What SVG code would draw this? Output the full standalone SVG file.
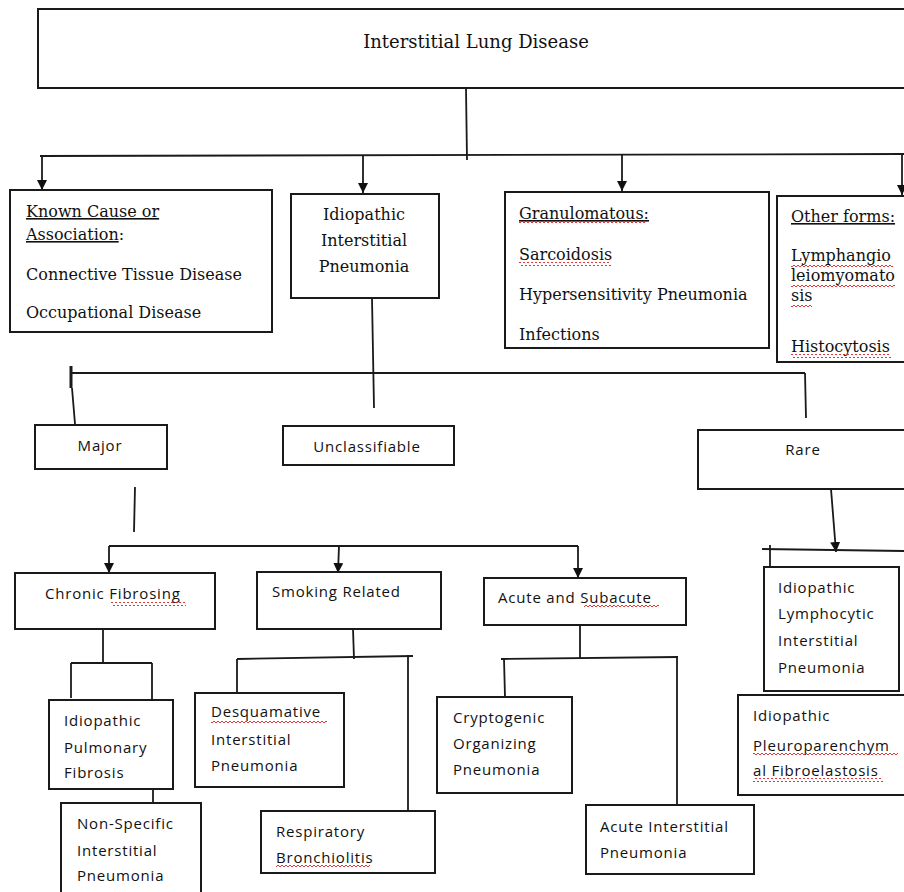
<svg xmlns="http://www.w3.org/2000/svg" width="904" height="892" viewBox="0 0 904 892">
<style>
.box{fill:#fff;stroke:#1a1a1a;stroke-width:2}
.ln{fill:none;stroke:#1a1a1a;stroke-width:1.8}
.arr{marker-end:url(#ah)}
.sf{font-family:"DejaVu Serif","Liberation Serif",serif;font-size:16px;fill:#111}
.ss{font-family:"Open Sans","Liberation Sans",sans-serif;font-size:15px;letter-spacing:0.8px;fill:#111}
.ul{text-decoration:underline}
.sq{fill:url(#wave)}
</style>
<defs>
<marker id="ah" markerUnits="userSpaceOnUse" markerWidth="10" markerHeight="11" refX="10" refY="5" orient="auto">
<path d="M0,0 L10,5 L0,10 z" fill="#111"/>
</marker>
<pattern id="wave" patternUnits="userSpaceOnUse" width="4" height="4">
<path d="M0,3 L2,1 L4,3" fill="none" stroke="#e02020" stroke-width="0.9"/>
</pattern>
</defs>
<rect width="904" height="892" fill="#fff"/>
<g id="connectors">
<path class="ln" d="M466,88 L467,160"/>
<path class="ln" d="M40,156 L904,154"/>
<path class="ln arr" d="M42,156 L42,190"/>
<path class="ln arr" d="M363,156 L363,193"/>
<path class="ln arr" d="M622,155 L622,191"/>
<path class="ln arr" d="M902,154 L902,195"/>
<path class="ln" d="M372,298 L374,408"/>
<path class="ln" d="M71,373 L805,373"/>
<path class="ln" d="M71,366 L71,388" style="stroke-width:3"/>
<path class="ln" d="M72,388 L75,424"/>
<path class="ln" d="M805,373 L806,418"/>
<path class="ln" d="M135,487 L134,532"/>
<path class="ln" d="M109,546 L578,546"/>
<path class="ln arr" d="M109,546 L109,573"/>
<path class="ln arr" d="M339,546 L338,573"/>
<path class="ln arr" d="M578,546 L578,578"/>
<path class="ln arr" d="M831,489 L836,552"/>
<path class="ln" d="M762,549 L904,551"/>
<path class="ln" d="M770,545 L770,567"/>
<path class="ln" d="M103,629 L103,663"/>
<path class="ln" d="M71,663 L152,663"/>
<path class="ln" d="M71,663 L71,698"/>
<path class="ln" d="M152,663 L152,700"/>
<path class="ln" d="M153,789 L153,803"/>
<path class="ln" d="M353,629 L354,659"/>
<path class="ln" d="M237,659 L413,656"/>
<path class="ln" d="M237,659 L237,693"/>
<path class="ln" d="M408,655 L408,811"/>
<path class="ln" d="M580,625 L580,659"/>
<path class="ln" d="M501,659 L678,657"/>
<path class="ln" d="M504,659 L505,697"/>
<path class="ln" d="M677,656 L677,805"/>
</g>
<g id="ild">
<rect class="box" x="38" y="9" width="880" height="79"/>
<text class="sf" x="476" y="48" text-anchor="middle" style="font-size:18px">Interstitial Lung Disease</text>
</g>
<g id="known">
<rect class="box" x="10" y="190" width="262" height="142"/>
<text class="sf" x="26" y="217"><tspan class="ul">Known Cause or</tspan></text>
<text class="sf" x="26" y="240"><tspan class="ul">Association</tspan>:</text>
<text class="sf" x="26" y="280">Connective Tissue Disease</text>
<text class="sf" x="26" y="318">Occupational  Disease</text>
</g>
<g id="iip">
<rect class="box" x="291" y="194" width="148" height="104"/>
<text class="sf" x="364" y="220" text-anchor="middle">Idiopathic</text>
<text class="sf" x="364" y="246" text-anchor="middle">Interstitial</text>
<text class="sf" x="364" y="272" text-anchor="middle">Pneumonia</text>
</g>
<g id="granulomatous">
<rect class="box" x="505" y="192" width="264" height="156"/>
<text class="sf" x="519" y="219"><tspan class="ul">Granulomatous:</tspan></text>
<text class="sf" x="519" y="260">Sarcoidosis</text>
<text class="sf" x="519" y="300">Hypersensitivity Pneumonia</text>
<text class="sf" x="519" y="340">Infections</text>
<rect class="sq" x="519" y="221" width="127" height="4"/>
<rect class="sq" x="519" y="262" width="92" height="4"/>
</g>
<g id="other">
<rect class="box" x="777" y="196" width="140" height="166"/>
<text class="sf" x="791" y="222"><tspan class="ul">Other forms:</tspan></text>
<text class="sf" x="791" y="261">Lymphangio</text>
<text class="sf" x="791" y="281">leiomyomato</text>
<text class="sf" x="791" y="301">sis</text>
<text class="sf" x="791" y="352">Histocytosis</text>
<rect class="sq" x="791" y="263" width="102" height="4"/>
<rect class="sq" x="791" y="283" width="104" height="4"/>
<rect class="sq" x="791" y="303" width="21" height="4"/>
<rect class="sq" x="791" y="354" width="100" height="4"/>
</g>
<g id="major">
<rect class="box" x="35" y="425" width="132" height="44"/>
<text class="ss" x="100" y="451" text-anchor="middle">Major</text>
</g>
<g id="unclassifiable">
<rect class="box" x="283" y="426" width="171" height="39"/>
<text class="ss" x="367" y="452" text-anchor="middle">Unclassifiable</text>
</g>
<g id="rare">
<rect class="box" x="698" y="430" width="220" height="59"/>
<text class="ss" x="803" y="455" text-anchor="middle">Rare</text>
</g>
<g id="chronic">
<rect class="box" x="15" y="573" width="200" height="56"/>
<text class="ss" x="45" y="599">Chronic Fibrosing</text>
<rect class="sq" x="111" y="602" width="75" height="4"/>
</g>
<g id="smoking">
<rect class="box" x="257" y="572" width="184" height="57"/>
<text class="ss" x="272" y="597">Smoking Related</text>
</g>
<g id="acute">
<rect class="box" x="484" y="578" width="202" height="47"/>
<text class="ss" x="498" y="603">Acute and Subacute</text>
<rect class="sq" x="584" y="605" width="75" height="4"/>
</g>
<g id="ilip">
<rect class="box" x="764" y="567" width="135" height="124"/>
<text class="ss" x="778" y="593">Idiopathic</text>
<text class="ss" x="778" y="619">Lymphocytic</text>
<text class="ss" x="778" y="646">Interstitial</text>
<text class="ss" x="778" y="673">Pneumonia</text>
</g>
<g id="ippfe">
<rect class="box" x="738" y="695" width="180" height="100"/>
<text class="ss" x="753" y="721">Idiopathic</text>
<text class="ss" x="753" y="751">Pleuroparenchym</text>
<text class="ss" x="753" y="776">al Fibroelastosis</text>
<rect class="sq" x="753" y="753" width="145" height="4"/>
<rect class="sq" x="753" y="778" width="130" height="4"/>
</g>
<g id="ipf">
<rect class="box" x="49" y="700" width="124" height="89"/>
<text class="ss" x="64" y="726">Idiopathic</text>
<text class="ss" x="64" y="753">Pulmonary</text>
<text class="ss" x="64" y="778">Fibrosis</text>
</g>
<g id="nsip">
<rect class="box" x="61" y="803" width="140" height="100"/>
<text class="ss" x="77" y="829">Non-Specific</text>
<text class="ss" x="77" y="856">Interstitial</text>
<text class="ss" x="77" y="881">Pneumonia</text>
</g>
<g id="dip">
<rect class="box" x="195" y="693" width="149" height="94"/>
<text class="ss" x="211" y="717">Desquamative</text>
<text class="ss" x="211" y="745">Interstitial</text>
<text class="ss" x="211" y="771">Pneumonia</text>
<rect class="sq" x="211" y="719" width="116" height="4"/>
</g>
<g id="rb">
<rect class="box" x="261" y="811" width="174" height="62"/>
<text class="ss" x="276" y="837">Respiratory</text>
<text class="ss" x="276" y="863">Bronchiolitis</text>
<rect class="sq" x="276" y="865" width="94" height="4"/>
</g>
<g id="cop">
<rect class="box" x="437" y="697" width="135" height="96"/>
<text class="ss" x="453" y="723">Cryptogenic</text>
<text class="ss" x="453" y="749">Organizing</text>
<text class="ss" x="453" y="775">Pneumonia</text>
</g>
<g id="aip">
<rect class="box" x="586" y="805" width="168" height="69"/>
<text class="ss" x="600" y="832">Acute Interstitial</text>
<text class="ss" x="600" y="858">Pneumonia</text>
</g>
</svg>
